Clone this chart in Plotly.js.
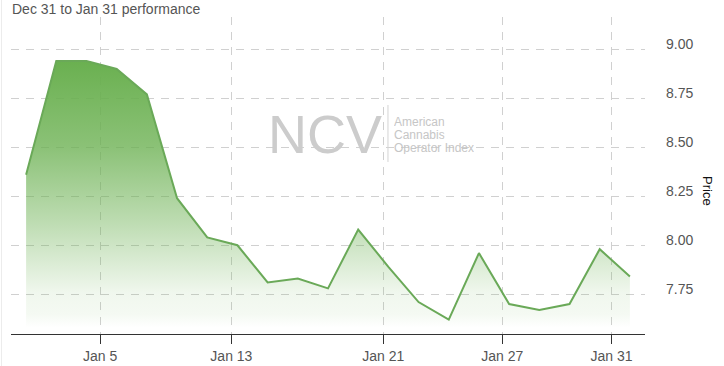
<!DOCTYPE html>
<html>
<head>
<meta charset="utf-8">
<script src="https://cdn.plot.ly/plotly-3.0.1.min.js"></script>
<style>
  html, body { margin: 0; padding: 0; background: #fff; }
  #chart { width: 724px; height: 366px; }
</style>
</head>
<body>
<div id="chart"></div>
<script>
// Daily closing prices, Dec 31 to Jan 31 (one value per trading session)
const prices = [8.36, 8.94, 8.94, 8.90, 8.77, 8.24, 8.04, 8.00, 7.81, 7.83, 7.78,
                8.08, 7.89, 7.71, 7.62, 7.96, 7.70, 7.67, 7.70, 7.98, 7.84];
// Session index for each price
const sessions = prices.map((_, i) => i);
// Date tick labels and where they fall on the session scale
const tickLabels = ['Jan 5', 'Jan 13', 'Jan 21', 'Jan 27', 'Jan 31'];
const tickSessions = [2.45, 6.80, 11.83, 15.77, 19.39];
const priceTicks = [7.75, 8.00, 8.25, 8.50, 8.75, 9.00];

const font = 'Liberation Sans, Arial, sans-serif';

const trace = {
  x: sessions,
  y: prices,
  type: 'scatter',
  mode: 'lines',
  line: { color: '#6aa958', width: 2 },
  fill: 'tozeroy',
  fillgradient: {
    type: 'vertical',
    start: 7.58,
    stop: 8.94,
    colorscale: [
      [0, 'rgba(106,176,80,0)'],
      [0.05, 'rgba(106,176,80,0.07)'],
      [0.13, 'rgba(106,176,80,0.10)'],
      [0.41, 'rgba(106,176,80,0.46)'],
      [0.68, 'rgba(106,176,80,0.78)'],
      [1, 'rgba(106,176,80,1)']
    ]
  },
  hoverinfo: 'skip'
};

const wm = { family: font, size: 12, color: '#c6c6c6' };

const layout = {
  width: 724,
  height: 366,
  margin: { l: 11, r: 79, t: 17, b: 32 },
  paper_bgcolor: '#fff',
  plot_bgcolor: '#fff',
  showlegend: false,
  font: { family: font, color: '#555', size: 14 },
  xaxis: {
    type: 'linear',
    range: [-0.5, 20.5],
    tickmode: 'array',
    tickvals: tickSessions,
    ticktext: tickLabels,
    showgrid: true,
    gridcolor: '#d0d0d0',
    griddash: '8px,7px',
    gridwidth: 1,
    zeroline: false,
    showline: true,
    linecolor: '#333',
    linewidth: 1,
    ticks: 'outside',
    ticklen: 9,
    tickcolor: '#333',
    tickfont: { family: font, size: 14, color: '#555' },
    fixedrange: true
  },
  yaxis: {
    side: 'right',
    range: [7.547, 9.165],
    tickmode: 'array',
    tickvals: priceTicks,
    ticktext: priceTicks.map(v => v.toFixed(2)),
    showgrid: true,
    gridcolor: '#d0d0d0',
    griddash: '8px,7px',
    gridwidth: 1,
    zeroline: false,
    showline: false,
    ticks: '',
    ticklabelstandoff: 20,
    ticklabelshift: -5,
    tickfont: { family: font, size: 14, color: '#555' },
    fixedrange: true
  },
  shapes: [
    { type: 'line', xref: 'paper', yref: 'paper', x0: 0.5946, x1: 0.5946, y0: 0.5426, y1: 0.7224,
      line: { color: '#d4d4d4', width: 1 } },
    { type: 'line', xref: 'paper', yref: 'paper', x0: -0.0150, x1: -0.0150, y0: -0.2, y1: 1.06,
      line: { color: '#ececec', width: 1 } }
  ],
  annotations: [
    { text: 'Dec 31 to Jan 31 performance', xref: 'paper', yref: 'paper', x: -0.0016, y: 1.0252,
      xanchor: 'left', yanchor: 'middle', showarrow: false,
      font: { family: font, size: 14, color: '#555' } },
    { text: 'Price', xref: 'paper', yref: 'paper', x: 1.0994, y: 0.451, textangle: 90,
      xanchor: 'center', yanchor: 'middle', showarrow: false,
      font: { family: font, size: 13, color: '#111' } },
    { text: 'NCV', xref: 'paper', yref: 'paper', x: 0.4953, y: 0.6309,
      xanchor: 'center', yanchor: 'middle', showarrow: false,
      font: { family: font, size: 54, color: '#cccccc' } },
    { text: 'American', xref: 'paper', yref: 'paper', x: 0.6025, y: 0.6697, height: 11, borderpad: 0,
      xanchor: 'left', yanchor: 'middle', showarrow: false, font: wm },
    { text: 'Cannabis', xref: 'paper', yref: 'paper', x: 0.6025, y: 0.6309, height: 11, borderpad: 0,
      xanchor: 'left', yanchor: 'middle', showarrow: false, font: wm },
    { text: 'Operator Index', xref: 'paper', yref: 'paper', x: 0.6025, y: 0.5889, height: 13, borderpad: 0,
      xanchor: 'left', yanchor: 'middle', showarrow: false, font: wm }
  ]
};

Plotly.newPlot('chart', [trace], layout, { displayModeBar: false, staticPlot: true });
</script>
</body>
</html>
